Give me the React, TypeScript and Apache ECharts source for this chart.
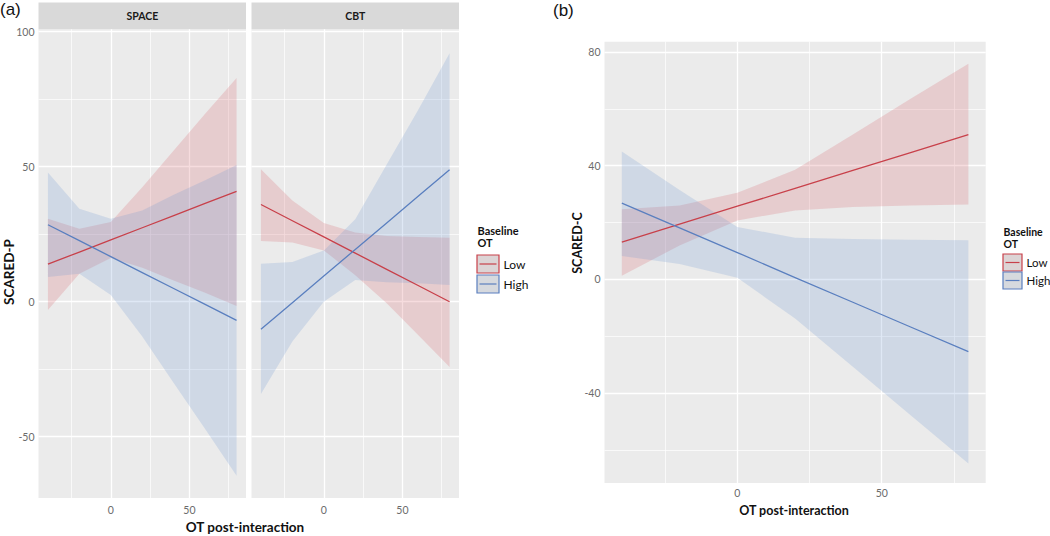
import React, { useEffect, useRef } from "react";
import * as echarts from "echarts";

// x positions of the fitted effects
const X = [-40, -20, 0, 20, 40, 60, 80];

// Panel (a) — SPACE facet
const spaceLowFit = [13.9, 18.4, 22.9, 27.4, 31.9, 36.4, 40.9];
const spaceLowUpper = [30.7, 27.0, 29.5, 42.4, 56.0, 69.6, 82.9];
const spaceLowLower = [-3.1, 10.4, 16.2, 12.6, 7.9, 3.3, -1.6];
const spaceHighFit = [28.5, 22.6, 16.7, 10.8, 4.9, -1.0, -6.9];
const spaceHighUpper = [47.9, 34.4, 30.7, 33.8, 39.6, 45.0, 50.6];
const spaceHighLower = [9.2, 10.4, 2.5, -12.9, -30.1, -47.1, -64.5];

// Panel (a) — CBT facet
const cbtLowFit = [36.0, 30.0, 24.0, 18.0, 12.0, 6.0, 0.0];
const cbtLowUpper = [49.1, 37.5, 29.2, 25.6, 24.3, 24.0, 23.7];
const cbtLowLower = [22.5, 21.9, 19.0, 9.8, -0.6, -12.3, -24.2];
const cbtHighFit = [-10.2, -0.35, 9.5, 19.35, 29.2, 39.05, 48.9];
const cbtHighUpper = [14.1, 14.7, 19.0, 30.5, 50.8, 71.0, 92.0];
const cbtHighLower = [-34.2, -14.7, 0.0, 8.0, 7.2, 6.8, 6.2];

// Panel (b)
const cLowFit = [13.1, 19.4, 25.7, 32.0, 38.3, 44.6, 50.9];
const cLowUpper = [24.6, 26.0, 30.4, 38.5, 50.9, 63.5, 75.8];
const cLowLower = [1.2, 11.9, 20.7, 24.2, 25.4, 26.0, 26.3];
const cHighFit = [26.8, 18.1, 9.4, 0.6, -8.1, -16.8, -25.5];
const cHighUpper = [45.0, 31.4, 18.4, 14.6, 14.2, 13.9, 13.7];
const cHighLower = [8.2, 5.4, 0.5, -13.8, -30.8, -47.9, -64.8];

// Axis ticks / gridlines
const xMajor = [0, 50];
const xMinor = [-25, 25, 75];
const yMajorA = [-50, 0, 50, 100];
const yMinorA = [-25, 25, 75];
const yMajorB = [-40, 0, 40, 80];
const yMinorB = [-60, -20, 20, 60];

const FONT = "Lato, 'Open Sans', sans-serif";
const RED_LINE = "#c8404a";
const BLUE_LINE = "#5a7fbf";
const RED_FILL = "rgba(214, 96, 104, 0.22)";
const BLUE_FILL = "rgba(110, 150, 210, 0.22)";
const TICK_COL = "#6b6b6b";

function buildOption() {
  const grids = [
    { left: 38.5, top: 29.3, width: 207.5, height: 468.7 },
    { left: 251.5, top: 29.3, width: 207.5, height: 468.7 },
    { left: 604.5, top: 41.7, width: 381.2, height: 441.3 },
  ].map((g) => ({ ...g, show: true, backgroundColor: "#ebebeb", borderWidth: 0, containLabel: false }));

  const xAxis = [0, 1, 2].map((i) => ({
    type: "value",
    gridIndex: i,
    min: -46,
    max: 86,
    splitLine: { show: false },
    axisLine: { show: false },
    axisTick: { show: true, length: 3, lineStyle: { color: "#555", width: 1 }, customValues: xMajor },
    axisLabel: {
      customValues: xMajor,
      color: TICK_COL,
      fontSize: 10.5,
      fontFamily: FONT,
      margin: i === 2 ? 4 : 6,
    },
  }));

  const yAxis = [0, 1, 2].map((i) => {
    const major = i === 2 ? yMajorB : yMajorA;
    return {
      type: "value",
      gridIndex: i,
      min: i === 2 ? -71.7 : -72.7,
      max: i === 2 ? 83.6 : 100.9,
      splitLine: { show: false },
      axisLine: { show: false },
      axisTick: { show: i !== 1, length: 3, lineStyle: { color: "#555", width: 1 }, customValues: major },
      axisLabel: {
        show: i !== 1,
        customValues: major,
        color: TICK_COL,
        fontSize: 10.5,
        fontFamily: FONT,
        margin: 4,
      },
    };
  });

  const gridLines = (gi: number) => {
    const yMaj = gi === 2 ? yMajorB : yMajorA;
    const yMin = gi === 2 ? yMinorB : yMinorA;
    const data: any[] = [];
    xMinor.forEach((v) => data.push({ xAxis: v, lineStyle: { width: 0.7 } }));
    xMajor.forEach((v) => data.push({ xAxis: v, lineStyle: { width: 1.3 } }));
    yMin.forEach((v) => data.push({ yAxis: v, lineStyle: { width: 0.7 } }));
    yMaj.forEach((v) => data.push({ yAxis: v, lineStyle: { width: 1.3 } }));
    return {
      type: "line",
      xAxisIndex: gi,
      yAxisIndex: gi,
      data: [],
      silent: true,
      z: 1,
      markLine: {
        silent: true,
        z: 1,
        symbol: ["none", "none"],
        label: { show: false },
        emphasis: { disabled: true },
        lineStyle: { color: "#ffffff", type: "solid" },
        data,
      },
    };
  };

  const band = (gi: number, lower: number[], upper: number[], fill: string) => ({
    type: "custom",
    xAxisIndex: gi,
    yAxisIndex: gi,
    z: 3,
    silent: true,
    data: X.map((x, i) => [x, lower[i], upper[i]]),
    encode: { x: 0, y: [1, 2] },
    renderItem: (params: any, api: any) => {
      if (params.dataIndex !== 0) return null;
      const pts: number[][] = [];
      for (let i = 0; i < X.length; i++) pts.push(api.coord([X[i], upper[i]]));
      for (let i = X.length - 1; i >= 0; i--) pts.push(api.coord([X[i], lower[i]]));
      return { type: "polygon", shape: { points: pts }, style: { fill, stroke: "none" } };
    },
  });

  const line = (gi: number, fit: number[], color: string) => ({
    type: "line",
    xAxisIndex: gi,
    yAxisIndex: gi,
    z: 4,
    silent: true,
    symbol: "none",
    data: X.map((x, i) => [x, fit[i]]),
    lineStyle: { color, width: 1.3 },
  });

  const series = [
    gridLines(0),
    gridLines(1),
    gridLines(2),
    band(0, spaceLowLower, spaceLowUpper, RED_FILL),
    band(0, spaceHighLower, spaceHighUpper, BLUE_FILL),
    band(1, cbtLowLower, cbtLowUpper, RED_FILL),
    band(1, cbtHighLower, cbtHighUpper, BLUE_FILL),
    band(2, cLowLower, cLowUpper, RED_FILL),
    band(2, cHighLower, cHighUpper, BLUE_FILL),
    line(0, spaceLowFit, RED_LINE),
    line(0, spaceHighFit, BLUE_LINE),
    line(1, cbtLowFit, RED_LINE),
    line(1, cbtHighFit, BLUE_LINE),
    line(2, cLowFit, RED_LINE),
    line(2, cHighFit, BLUE_LINE),
  ];

  const legend = (x: number, yTitle: number, boxW: number, boxH: number, yBox: number, gap: number, fs: number) => {
    const els: any[] = [
      { type: "text", x, y: yTitle, style: { text: "Baseline\nOT", font: `bold ${fs}px ${FONT}`, fill: "#111", lineHeight: fs + 1.5 } },
    ];
    const keys = [
      { label: "Low", color: RED_LINE, fill: "#dcd4d5" },
      { label: "High", color: BLUE_LINE, fill: "#d6d9de" },
    ];
    keys.forEach((k, i) => {
      const top = yBox + i * (boxH + gap);
      els.push({ type: "rect", shape: { x: x - 0.5, y: top, width: boxW, height: boxH }, style: { fill: k.fill, stroke: k.color, lineWidth: 1.2 } });
      els.push({ type: "line", shape: { x1: x + 2, y1: top + boxH / 2, x2: x + boxW - 3, y2: top + boxH / 2 }, style: { stroke: k.color, lineWidth: 1.2 } });
      els.push({ type: "text", x: x + boxW + 4, y: top + boxH / 2, style: { text: k.label, font: `${fs + 1}px ${FONT}`, fill: "#111", verticalAlign: "middle" } });
    });
    return els;
  };

  const graphic: any[] = [
    { type: "text", x: 0, y: 1, style: { text: "(a)", font: "17px 'Liberation Sans', Arial, sans-serif", fill: "#111" } },
    { type: "text", x: 553, y: 2, style: { text: "(b)", font: "17px 'Liberation Sans', Arial, sans-serif", fill: "#111" } },
    { type: "rect", shape: { x: 38.5, y: 2.5, width: 207.5, height: 26.8 }, style: { fill: "#d9d9d9" } },
    { type: "rect", shape: { x: 251.5, y: 2.5, width: 207.5, height: 26.8 }, style: { fill: "#d9d9d9" } },
    { type: "text", x: 142.3, y: 16, style: { text: "SPACE", font: `bold 10.5px ${FONT}`, fill: "#1a1a1a", align: "center", verticalAlign: "middle" } },
    { type: "text", x: 355.3, y: 16, style: { text: "CBT", font: `bold 10.5px ${FONT}`, fill: "#1a1a1a", align: "center", verticalAlign: "middle" } },
    { type: "text", x: 245, y: 527, style: { text: "OT post-interaction", font: `bold 13.5px ${FONT}`, fill: "#111", align: "center", verticalAlign: "middle" } },
    { type: "text", x: 9, y: 272, rotation: Math.PI / 2, style: { text: "SCARED-P", font: `bold 13.5px ${FONT}`, fill: "#111", align: "center", verticalAlign: "middle" } },
    { type: "text", x: 794, y: 510, style: { text: "OT post-interaction", font: `bold 12.5px ${FONT}`, fill: "#111", align: "center", verticalAlign: "middle" } },
    { type: "text", x: 577, y: 243, rotation: Math.PI / 2, style: { text: "SCARED-C", font: `bold 12.5px ${FONT}`, fill: "#111", align: "center", verticalAlign: "middle" } },
    ...legend(477.5, 224, 22, 18, 255, 2, 11),
    ...legend(1003.5, 226, 19, 17, 254, 1, 10.5),
  ];

  return {
    animation: false,
    grid: grids,
    xAxis,
    yAxis,
    series,
    graphic,
  };
}

export default function App() {
  const ref = useRef<HTMLDivElement>(null);
  useEffect(() => {
    document.body.style.margin = "0";
    const chart = echarts.init(ref.current!, null, { renderer: "svg" });
    chart.setOption(buildOption() as any);
    return () => chart.dispose();
  }, []);
  return <div ref={ref} style={{ width: 1050, height: 536 }} />;
}
